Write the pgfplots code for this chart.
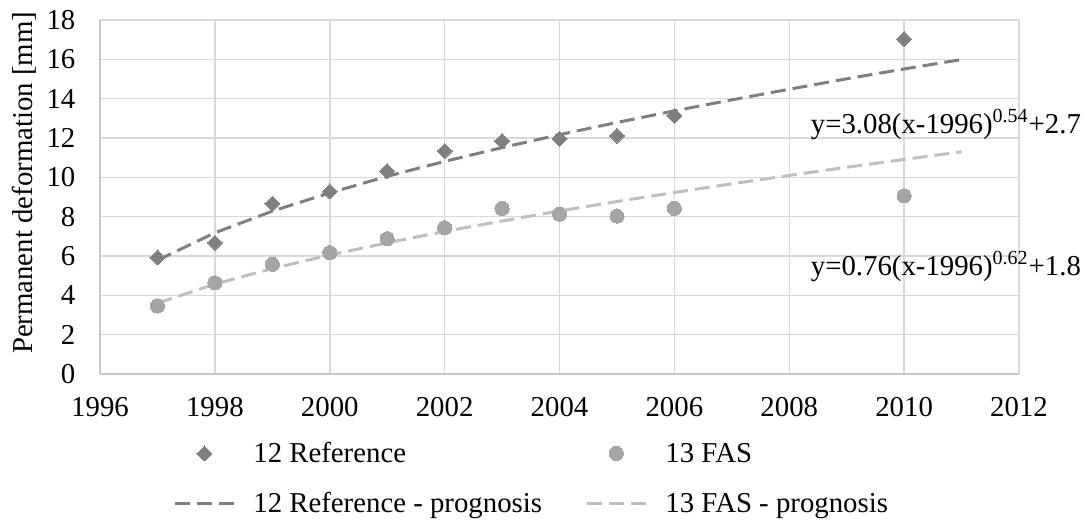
\documentclass[border=0pt]{standalone}
\usepackage{pgfplots}
\pgfplotsset{compat=1.18}
\usepackage{fontspec}
\setmainfont{Liberation Serif}
\definecolor{refc}{HTML}{7F7F7F}
\definecolor{fasc}{HTML}{A5A5A5}
\definecolor{fasl}{HTML}{BFBFBF}
\definecolor{gridc}{HTML}{D9D9D9}
\definecolor{axc}{HTML}{C8C8C8}
\begin{document}
\begin{tikzpicture}[font=\fontsize{14.4}{17}\selectfont]
\begin{axis}[
  scale only axis,
  width=459.5pt, height=177pt,
  xmin=1996, xmax=2012, ymin=0, ymax=18,
  xtick={1996,1998,...,2012}, ytick={0,2,...,18},
  /pgf/number format/assume math mode=true,
  /pgf/number format/1000 sep={},
  grid=major,
  major grid style={draw=gridc, line width=0.75pt},
  axis x line*=bottom, axis y line*=left,
  axis line style={draw=axc, line width=0.75pt},
  major tick length=0pt,
  xticklabel style={yshift=-8pt},
  yticklabel style={xshift=-8.8pt},
  ylabel={Permanent deformation [mm]},
  ylabel style={at={(axis description cs:-0.0827,0.54)}, anchor=center},
  clip=false,
  legend image code/.code={\draw[mark repeat=2,mark phase=2,#1] plot coordinates {(0pt,0pt) (14.75pt,0pt) (29.5pt,0pt)};},
  legend columns=2,
  legend style={draw=none, fill=none, inner sep=0pt, row sep=12pt,
    at={(axis description cs:0.0794,-0.1864)}, anchor=north west,
    cells={anchor=west},
    nodes={inner sep=0pt, text height=11pt, text depth=2pt},
    /tikz/every odd column/.append style={column sep=9pt}},
]
\addplot[only marks, mark=square*, mark size=2.65pt, mark options={rotate=45, draw=refc, fill=refc, line width=0pt}] coordinates {
 (1997,5.93) (1998,6.68) (1999,8.66) (2000,9.28) (2001,10.32) (2002,11.34) (2003,11.85) (2004,11.97) (2005,12.12) (2006,13.13) (2010,17.03)
};
\addlegendentry{\makebox[166pt][l]{12 Reference}}
\addplot[only marks, mark=*, mark size=3.55pt, mark options={draw=fasc, fill=fasc, line width=0pt}] coordinates {
 (1997,3.46) (1998,4.64) (1999,5.58) (2000,6.17) (2001,6.88) (2002,7.44) (2003,8.42) (2004,8.13) (2005,8.03) (2006,8.42) (2010,9.06)
};
\addlegendentry{13 FAS}
\addplot[draw=refc, line width=1.5pt, dash pattern=on 7.5pt off 3.5pt, no marks] coordinates {
 (1997,5.78) (1998,7.18) (1999,8.28) (2000,9.21) (2001,10.05) (2002,10.81) (2003,11.51) (2004,12.17) (2005,12.79) (2006,13.38) (2007,13.94) (2008,14.48) (2009,15.01) (2010,15.51) (2011,15.99)
};
\addlegendentry{\makebox[166pt][l]{12 Reference - prognosis}}
\addplot[draw=fasl, line width=1.5pt, dash pattern=on 7.5pt off 3.5pt, no marks] coordinates {
 (1997,3.60) (1998,4.57) (1999,5.36) (2000,6.05) (2001,6.67) (2002,7.25) (2003,7.78) (2004,8.29) (2005,8.77) (2006,9.23) (2007,9.67) (2008,10.10) (2009,10.51) (2010,10.91) (2011,11.30)
};
\addlegendentry{13 FAS - prognosis}
\node[anchor=base west, inner sep=0pt] at (axis cs:2008.37,12.25) {y=3.08(x-1996)\textsuperscript{0.54}+2.7};
\node[anchor=base west, inner sep=0pt] at (axis cs:2008.37,5.03) {y=0.76(x-1996)\textsuperscript{0.62}+1.8};
\end{axis}
\pgfresetboundingbox
\path[use as bounding box] ([xshift=-50pt,yshift=-72.5pt]current axis.south west) rectangle ([xshift=33.5pt,yshift=10pt]current axis.north east);
\end{tikzpicture}
\end{document}
